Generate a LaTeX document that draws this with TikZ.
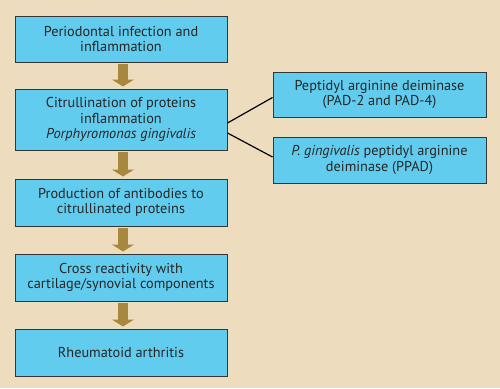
\documentclass[tikz,border=0pt]{standalone}
\usepackage{fontspec}
\setmainfont{PT Sans}
\usetikzlibrary{arrows.meta}
\definecolor{bg}{HTML}{EDDCBD}
\definecolor{boxfill}{HTML}{62CCEE}
\definecolor{boxline}{HTML}{353535}
\definecolor{arrowc}{HTML}{A8873F}
\definecolor{txt}{HTML}{262626}
\begin{document}
\begin{tikzpicture}[x=1pt,y=-1pt,
  box/.style={draw=boxline, fill=boxfill, line width=1pt, align=center,
    minimum width=212pt, inner sep=0pt, font=\fontsize{14.3}{15.7}\selectfont, text=txt},
  flow/.style={draw=arrowc, line width=10pt, -{Triangle[width=22pt,length=7pt]},
    shorten <=1pt, shorten >=2pt},
  link/.style={draw=black, line width=1.2pt}]
\fill[bg] (0,0) rectangle (500,388);
\useasboundingbox (0,0) rectangle (500,388);
\node[box, minimum height=46pt] (b1) at (121,39) {Periodontal infection and\\inflammation};
\node[box, minimum height=61pt] (b2) at (121,119.5) {Citrullination of proteins\\inflammation\\\textit{Porphyromonas gingivalis}};
\node[box, minimum height=47pt] (b3) at (121,202.5) {Production of antibodies to\\citrullinated proteins};
\node[box, minimum height=47pt] (b4) at (121,277.5) {Cross reactivity with\\cartilage/synovial components};
\node[box, minimum height=47pt] (b5) at (121,352.5) {Rheumatoid arthritis};
\node[box, minimum width=213pt, minimum height=45pt] (pa) at (379.5,94.5) {Peptidyl arginine deiminase\\(PAD-2 and PAD-4)};
\node[box, minimum width=213pt, minimum height=46pt] (pb) at (379.5,160) {\textit{P. gingivalis} peptidyl arginine\\deiminase (PPAD)};
\draw[flow] ([xshift=2pt]b1.south) -- ([xshift=2pt]b2.north);
\draw[flow] ([xshift=2pt]b2.south) -- ([xshift=2pt]b3.north);
\draw[flow] ([xshift=2pt]b3.south) -- ([xshift=2pt]b4.north);
\draw[flow] ([xshift=2pt]b4.south) -- ([xshift=2pt]b5.north);
\draw[link] ([yshift=-3.5pt]b2.east) -- ([yshift=-3pt]pa.west);
\draw[link] ([yshift=-13.5pt]b2.east) -- ([yshift=3pt]pb.west);
\end{tikzpicture}
\end{document}
